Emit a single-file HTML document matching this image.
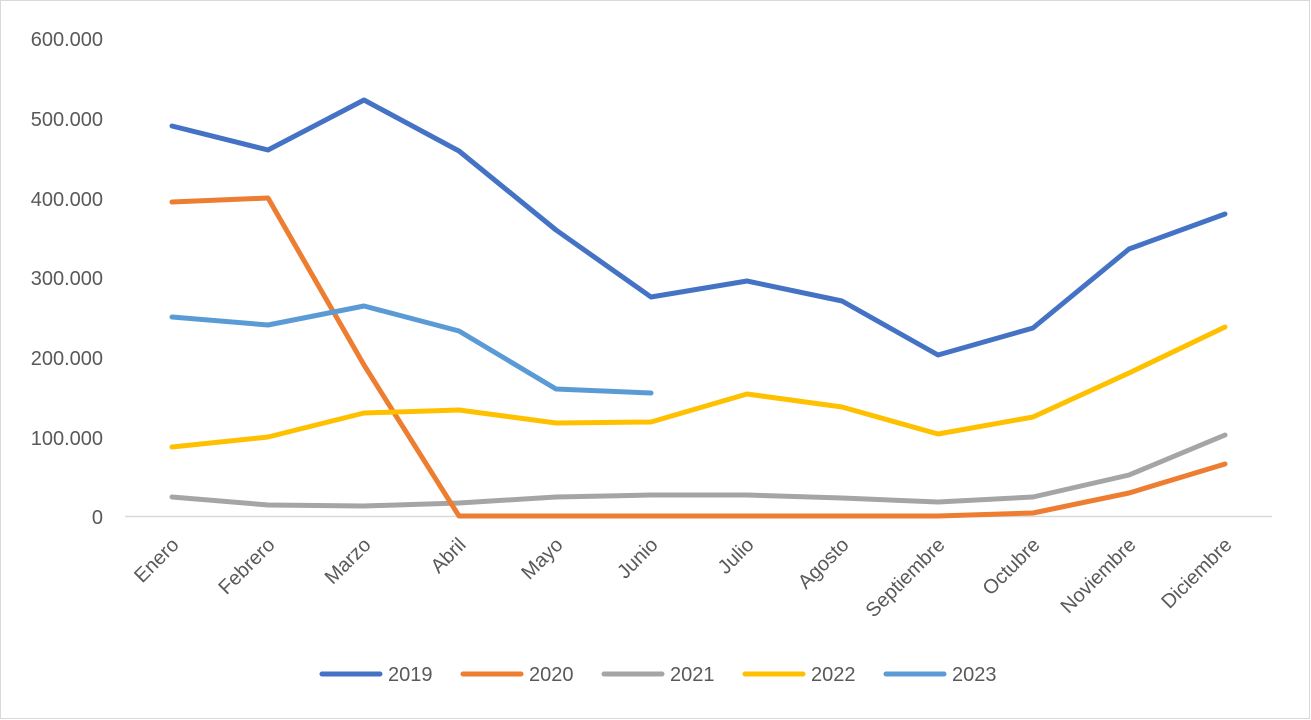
<!DOCTYPE html>
<html><head><meta charset="utf-8"><style>
html,body{margin:0;padding:0;background:#fff;}
svg{display:block;font-family:"Liberation Sans",sans-serif;}
</style></head><body>
<svg width="1311" height="720" viewBox="0 0 1311 720">
<rect x="0.5" y="0.5" width="1309" height="718" fill="#fff" stroke="#d9d9d9"/>
<g fill="#595959" font-size="20" text-anchor="end">
<text x="103" y="46">600.000</text>
<text x="103" y="126">500.000</text>
<text x="103" y="206">400.000</text>
<text x="103" y="285">300.000</text>
<text x="103" y="365">200.000</text>
<text x="103" y="445">100.000</text>
<text x="103" y="524">0</text>
</g>
<line x1="125" y1="516.5" x2="1272" y2="516.5" stroke="#d9d9d9" stroke-width="1.5"/>
<g fill="#595959" font-size="20" text-anchor="end">
<text transform="translate(180,546) rotate(-45)">Enero</text>
<text transform="translate(276,546) rotate(-45)">Febrero</text>
<text transform="translate(372,546) rotate(-45)">Marzo</text>
<text transform="translate(467,546) rotate(-45)">Abril</text>
<text transform="translate(564,546) rotate(-45)">Mayo</text>
<text transform="translate(659,546) rotate(-45)">Junio</text>
<text transform="translate(755,546) rotate(-45)">Julio</text>
<text transform="translate(850,546) rotate(-45)">Agosto</text>
<text transform="translate(946,546) rotate(-45)">Septiembre</text>
<text transform="translate(1041,546) rotate(-45)">Octubre</text>
<text transform="translate(1137,546) rotate(-45)">Noviembre</text>
<text transform="translate(1233,546) rotate(-45)">Diciembre</text>
</g>
<g fill="none" stroke-width="5" stroke-linejoin="round" stroke-linecap="round">
<polyline stroke="#a5a5a5" points="172,497 268,505 364,506 459,503 556,497 651,495 747,495 842,498 938,502 1033,497 1129,475 1225,435"/>
<polyline stroke="#ed7d31" points="172,202 268,198 364,365 459,516 556,516 651,516 747,516 842,516 938,516 1033,513 1129,493 1225,464"/>
<polyline stroke="#ffc000" points="172,447 268,437 364,413 459,410 556,423 651,422 747,394 842,407 938,434 1033,417 1129,373 1225,327"/>
<polyline stroke="#5b9bd5" points="172,317 268,325 364,306 459,331 556,389 651,393"/>
<polyline stroke="#4472c4" points="172,126 268,150 364,100 459,151 556,230 651,297 747,281 842,301 938,355 1033,328 1129,249 1225,214"/>
</g>
<g stroke-width="5" stroke-linecap="round">
<line x1="322" y1="674" x2="380" y2="674" stroke="#4472c4"/>
<line x1="463" y1="674" x2="521" y2="674" stroke="#ed7d31"/>
<line x1="604" y1="674" x2="662" y2="674" stroke="#a5a5a5"/>
<line x1="745" y1="674" x2="803" y2="674" stroke="#ffc000"/>
<line x1="886" y1="674" x2="944" y2="674" stroke="#5b9bd5"/>
</g>
<g fill="#595959" font-size="20">
<text x="388" y="681">2019</text>
<text x="529" y="681">2020</text>
<text x="670" y="681">2021</text>
<text x="811" y="681">2022</text>
<text x="952" y="681">2023</text>
</g>
</svg>
</body></html>
